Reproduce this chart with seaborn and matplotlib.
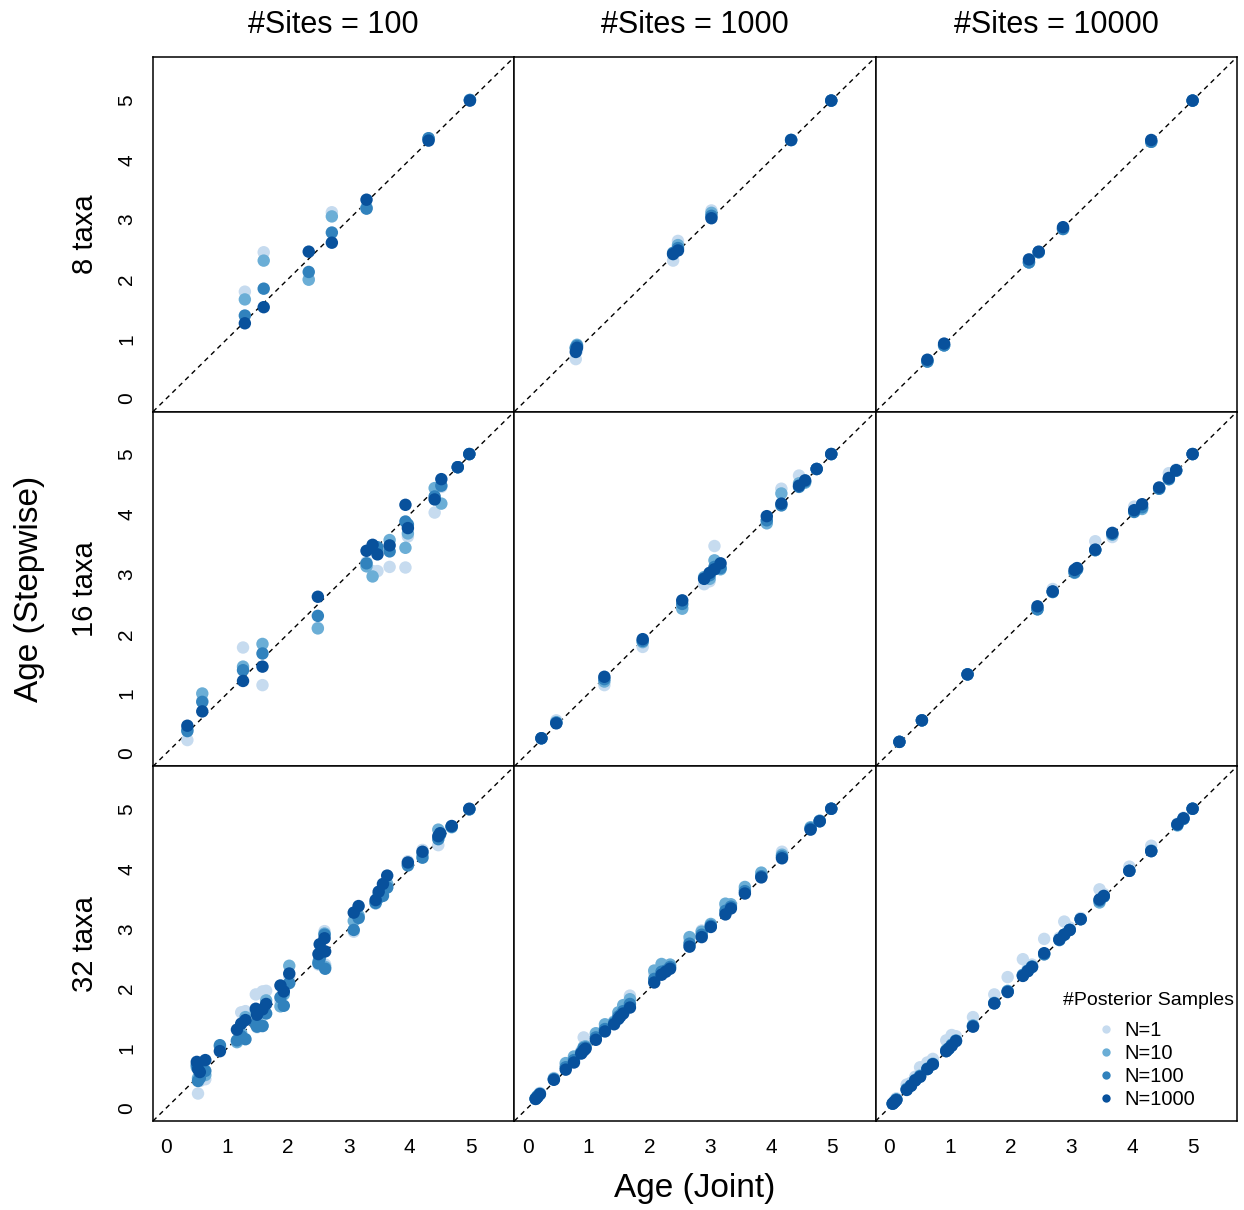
import matplotlib
matplotlib.use("Agg")
import matplotlib.pyplot as plt
import pandas as pd
import seaborn as sns

sites = [100, 1000, 10000]
taxa = [8, 16, 32]
samples = ["N=1", "N=10", "N=100", "N=1000"]
colors = ["#c6dbef", "#6baed6", "#3182bd", "#08519c"]

# one row per node: joint age, stepwise age for N=1, N=10, N=100, N=1000
t8_s100 = [
    (1.29, 1.79, 1.66, 1.39, 1.26), (1.60, 2.45, 2.31, 1.84, 1.53),
    (2.34, 2.00, 1.99, 2.12, 2.46), (2.72, 3.12, 3.05, 2.78, 2.61),
    (3.29, 3.19, 3.20, 3.18, 3.33), (4.31, 4.36, 4.35, 4.36, 4.32),
    (4.99, 5.00, 5.00, 5.00, 4.99),
]
t8_s1000 = [
    (0.79, 0.66, 0.86, 0.84, 0.78), (0.81, 0.80, 0.90, 0.88, 0.85),
    (2.39, 2.31, 2.42, 2.44, 2.42), (2.47, 2.64, 2.57, 2.52, 2.48),
    (3.02, 3.15, 3.11, 3.06, 3.02), (4.33, 4.33, 4.33, 4.33, 4.33),
    (4.99, 4.99, 4.99, 4.99, 4.99),
]
t8_s10000 = [
    (0.63, 0.62, 0.62, 0.62, 0.65), (0.905, 0.89, 0.89, 0.89, 0.92),
    (2.30, 2.28, 2.28, 2.28, 2.33), (2.46, 2.45, 2.45, 2.45, 2.46),
    (2.86, 2.84, 2.84, 2.84, 2.87), (4.31, 4.30, 4.30, 4.30, 4.33),
    (4.99, 4.99, 4.99, 4.99, 4.99),
]
t16_s100 = [
    (0.345, 0.22, 0.40, 0.37, 0.46), (0.59, 0.88, 1.00, 0.86, 0.70),
    (1.26, 1.77, 1.45, 1.39, 1.21), (1.58, 1.14, 1.83, 1.67, 1.45),
    (2.49, 2.10, 2.09, 2.30, 2.62), (3.29, 3.20, 3.13, 3.18, 3.39),
    (3.39, 3.05, 2.96, 3.44, 3.49), (3.47, 3.05, 3.40, 3.45, 3.33),
    (3.67, 3.12, 3.57, 3.38, 3.48), (3.93, 3.11, 3.44, 3.88, 4.16),
    (3.97, 3.63, 3.68, 3.83, 3.77), (4.41, 4.03, 4.44, 4.30, 4.25),
    (4.52, 4.46, 4.18, 4.48, 4.59), (4.79, 4.79, 4.79, 4.79, 4.79),
    (4.98, 5.01, 5.01, 5.01, 5.01),
]
t16_s1000 = [
    (0.225, 0.25, 0.25, 0.25, 0.25), (0.47, 0.55, 0.52, 0.51, 0.50),
    (1.26, 1.14, 1.20, 1.24, 1.28), (1.89, 1.78, 1.86, 1.88, 1.91),
    (2.54, 2.45, 2.42, 2.50, 2.56), (2.90, 2.83, 2.95, 2.93, 2.92),
    (2.99, 2.88, 2.92, 2.98, 3.02), (3.07, 3.47, 3.23, 3.12, 3.08),
    (3.17, 3.12, 3.08, 3.10, 3.18), (3.93, 3.90, 3.85, 3.90, 3.97),
    (4.17, 4.43, 4.35, 4.15, 4.18), (4.46, 4.65, 4.52, 4.46, 4.48),
    (4.56, 4.55, 4.53, 4.55, 4.57), (4.75, 4.76, 4.76, 4.76, 4.76),
    (4.99, 5.01, 5.01, 5.01, 5.01),
]
t16_s10000 = [
    (0.17, 0.19, 0.19, 0.19, 0.19), (0.54, 0.55, 0.55, 0.55, 0.55),
    (1.29, 1.32, 1.32, 1.32, 1.32), (2.44, 2.43, 2.41, 2.41, 2.46),
    (2.69, 2.75, 2.70, 2.70, 2.71), (3.05, 3.04, 3.02, 3.03, 3.07),
    (3.09, 3.10, 3.08, 3.08, 3.10), (3.39, 3.55, 3.40, 3.40, 3.41),
    (3.67, 3.62, 3.66, 3.67, 3.69), (4.03, 4.13, 4.05, 4.04, 4.07),
    (4.16, 4.12, 4.09, 4.12, 4.17), (4.44, 4.43, 4.43, 4.43, 4.45),
    (4.60, 4.69, 4.59, 4.59, 4.61), (4.72, 4.75, 4.73, 4.73, 4.74),
    (4.99, 5.01, 5.01, 5.01, 5.01),
]
t32_s100 = [
    (0.50, 0.70, 0.68, 0.72, 0.77), (0.52, 0.24, 0.50, 0.45, 0.65),
    (0.55, 0.45, 0.55, 0.50, 0.60), (0.64, 0.48, 0.55, 0.62, 0.80),
    (0.88, 0.95, 1.03, 1.05, 0.95), (1.16, 1.12, 1.10, 1.13, 1.31),
    (1.23, 1.60, 1.25, 1.20, 1.41), (1.30, 1.62, 1.52, 1.15, 1.47),
    (1.47, 1.90, 1.62, 1.40, 1.66), (1.49, 1.35, 1.45, 1.36, 1.56),
    (1.58, 1.95, 1.38, 1.37, 1.65), (1.64, 1.96, 1.80, 1.58, 1.74),
    (1.875, 1.78, 1.70, 1.85, 2.05), (1.93, 2.00, 1.90, 1.71, 1.95),
    (2.02, 2.20, 2.38, 2.09, 2.25), (2.50, 2.40, 2.45, 2.42, 2.575),
    (2.52, 2.60, 2.55, 2.50, 2.74), (2.60, 2.96, 2.92, 2.90, 2.84),
    (2.61, 2.40, 2.36, 2.33, 2.62), (3.08, 2.95, 3.13, 2.98, 3.27),
    (3.16, 3.20, 3.22, 3.18, 3.38), (3.44, 3.42, 3.45, 3.43, 3.48),
    (3.49, 3.55, 3.58, 3.52, 3.62), (3.56, 3.58, 3.62, 3.55, 3.75),
    (3.63, 3.70, 3.75, 3.69, 3.89), (3.97, 4.13, 4.08, 4.06, 4.11),
    (4.21, 4.32, 4.25, 4.19, 4.29), (4.47, 4.40, 4.66, 4.50, 4.55),
    (4.50, 4.62, 4.60, 4.58, 4.60), (4.69, 4.72, 4.70, 4.71, 4.72),
    (4.98, 5.00, 5.00, 5.00, 5.01),
]
t32_s1000 = [
    (0.13, 0.15, 0.16, 0.15, 0.15), (0.16, 0.19, 0.20, 0.19, 0.18),
    (0.20, 0.25, 0.24, 0.23, 0.23), (0.43, 0.50, 0.49, 0.48, 0.47),
    (0.625, 0.72, 0.75, 0.68, 0.64), (0.76, 0.82, 0.86, 0.80, 0.76),
    (0.88, 0.95, 0.93, 0.92, 0.91), (0.92, 1.18, 1.02, 1.00, 0.96),
    (0.95, 1.05, 1.03, 1.01, 0.99), (1.12, 1.22, 1.25, 1.18, 1.14),
    (1.27, 1.35, 1.40, 1.32, 1.28), (1.42, 1.45, 1.44, 1.42, 1.40),
    (1.49, 1.55, 1.60, 1.53, 1.49), (1.52, 1.60, 1.58, 1.55, 1.53),
    (1.57, 1.68, 1.72, 1.62, 1.58), (1.68, 1.88, 1.82, 1.74, 1.68),
    (2.08, 2.25, 2.30, 2.16, 2.10), (2.20, 2.36, 2.41, 2.28, 2.23),
    (2.27, 2.30, 2.32, 2.30, 2.28), (2.34, 2.38, 2.40, 2.36, 2.33),
    (2.66, 2.80, 2.86, 2.75, 2.70), (2.86, 2.97, 2.95, 2.90, 2.86),
    (3.01, 3.06, 3.08, 3.05, 3.03), (3.25, 3.38, 3.42, 3.30, 3.24),
    (3.34, 3.40, 3.41, 3.37, 3.34), (3.57, 3.66, 3.70, 3.63, 3.59),
    (3.84, 3.92, 3.94, 3.88, 3.86), (4.18, 4.29, 4.24, 4.21, 4.18),
    (4.65, 4.68, 4.70, 4.68, 4.66), (4.80, 4.81, 4.81, 4.80, 4.80),
    (4.99, 5.01, 5.01, 5.01, 5.01),
]
t32_s10000 = [
    (0.06, 0.08, 0.07, 0.07, 0.07), (0.09, 0.12, 0.10, 0.10, 0.10),
    (0.12, 0.16, 0.14, 0.14, 0.13), (0.29, 0.39, 0.32, 0.31, 0.30),
    (0.36, 0.42, 0.38, 0.37, 0.37), (0.43, 0.52, 0.47, 0.46, 0.46),
    (0.51, 0.68, 0.54, 0.53, 0.52), (0.63, 0.76, 0.66, 0.65, 0.65),
    (0.72, 0.82, 0.74, 0.73, 0.73), (0.94, 1.13, 0.97, 0.95, 0.95),
    (0.98, 1.10, 1.00, 0.99, 0.99), (1.03, 1.22, 1.06, 1.05, 1.04),
    (1.10, 1.20, 1.13, 1.12, 1.12), (1.38, 1.52, 1.38, 1.37, 1.36),
    (1.73, 1.90, 1.76, 1.75, 1.75), (1.95, 2.19, 1.96, 1.95, 1.94),
    (2.20, 2.49, 2.23, 2.22, 2.21), (2.28, 2.33, 2.30, 2.29, 2.29),
    (2.35, 2.40, 2.37, 2.36, 2.36), (2.55, 2.83, 2.58, 2.57, 2.59),
    (2.80, 2.85, 2.82, 2.81, 2.82), (2.88, 3.12, 2.90, 2.90, 2.90),
    (2.97, 3.02, 2.98, 2.98, 2.98), (3.15, 3.18, 3.16, 3.16, 3.16),
    (3.46, 3.66, 3.44, 3.47, 3.49), (3.53, 3.58, 3.54, 3.54, 3.55),
    (3.95, 4.04, 3.97, 3.97, 3.97), (4.31, 4.39, 4.31, 4.30, 4.30),
    (4.74, 4.76, 4.73, 4.74, 4.75), (4.84, 4.86, 4.84, 4.84, 4.85),
    (4.99, 5.01, 5.01, 5.01, 5.01),
]

panels = {
    (8, 100): t8_s100, (8, 1000): t8_s1000, (8, 10000): t8_s10000,
    (16, 100): t16_s100, (16, 1000): t16_s1000, (16, 10000): t16_s10000,
    (32, 100): t32_s100, (32, 1000): t32_s1000, (32, 10000): t32_s10000,
}


def long_table(rows):
    wide = pd.DataFrame(rows, columns=["joint"] + samples)
    # melt keeps N=1 rows first, so the darker samples are drawn on top
    return wide.melt(id_vars="joint", var_name="N", value_name="step")


sns.set_style("white")
plt.rcParams["font.family"] = ["Liberation Sans", "DejaVu Sans"]
plt.rcParams["text.color"] = "black"

W, H = 1244, 1210
fig = plt.figure(figsize=(W / 100, H / 100), dpi=100)
gs = fig.add_gridspec(3, 3, left=153 / W, right=1237 / W,
                      top=1 - 57 / H, bottom=1 - 1121 / H,
                      wspace=0, hspace=0)

lim = (-0.22, 5.72)
for i, nt in enumerate(taxa):
    for j, ns in enumerate(sites):
        ax = fig.add_subplot(gs[i, j])
        df = long_table(panels[(nt, ns)])
        last = (i == 2 and j == 2)
        sns.scatterplot(data=df, x="joint", y="step", hue="N",
                        hue_order=samples, palette=colors, s=80,
                        linewidth=0, alpha=1, ax=ax, legend=last, zorder=3)
        ax.axline((0, 0), (1, 1), color="black", lw=1.0,
                  ls=(0, (3.5, 3)), zorder=2)
        ax.set_xlim(lim)
        ax.set_ylim(lim)
        ax.set_xlabel("")
        ax.set_ylabel("")
        for sp in ax.spines.values():
            sp.set_color("black")
            sp.set_linewidth(1.1)
        ax.set_xticks(range(6))
        ax.set_yticks(range(6))
        ax.tick_params(direction="out", length=6, width=1, color="black",
                       labelsize=15, labelcolor="black", pad=6)
        if i < 2:
            ax.tick_params(axis="x", bottom=False, labelbottom=False)
        if j > 0:
            ax.tick_params(axis="y", left=False, labelleft=False)
        else:
            plt.setp(ax.get_yticklabels(), rotation=90, va="center")
        if last:
            sns.move_legend(ax, "lower right", bbox_to_anchor=(0.913, 0.006),
                            title=None, frameon=False,
                            fontsize=14.5, borderpad=0,
                            handlelength=1.0, handletextpad=0.45,
                            labelspacing=0.2)
            for h in ax.get_legend().legend_handles:
                if hasattr(h, "set_markersize"):
                    h.set_markersize(6)
                else:
                    h.set_sizes([36])
            ax.text(0.755, 0.339, "#Posterior Samples", transform=ax.transAxes,
                    ha="center", va="center", fontsize=14)

for j, ns in enumerate(sites):
    x0 = (153 + 361.3 * (j + 0.5)) / W
    fig.text(x0, 1 - 25 / H, f"#Sites = {ns}", ha="center", va="center",
             fontsize=22)
for i, nt in enumerate(taxa):
    y0 = 1 - (57 + 354.7 * (i + 0.5)) / H
    fig.text(85 / W, y0, f"{nt} taxa", ha="center", va="center",
             rotation=90, fontsize=21)

fig.text(30 / W, 1 - 589 / H, "Age (Stepwise)", ha="center", va="center",
         rotation=90, fontsize=24)
fig.text(695 / W, 1 - 1188 / H, "Age (Joint)", ha="center", va="center",
         fontsize=24)

fig.savefig("out.png", dpi=100)
